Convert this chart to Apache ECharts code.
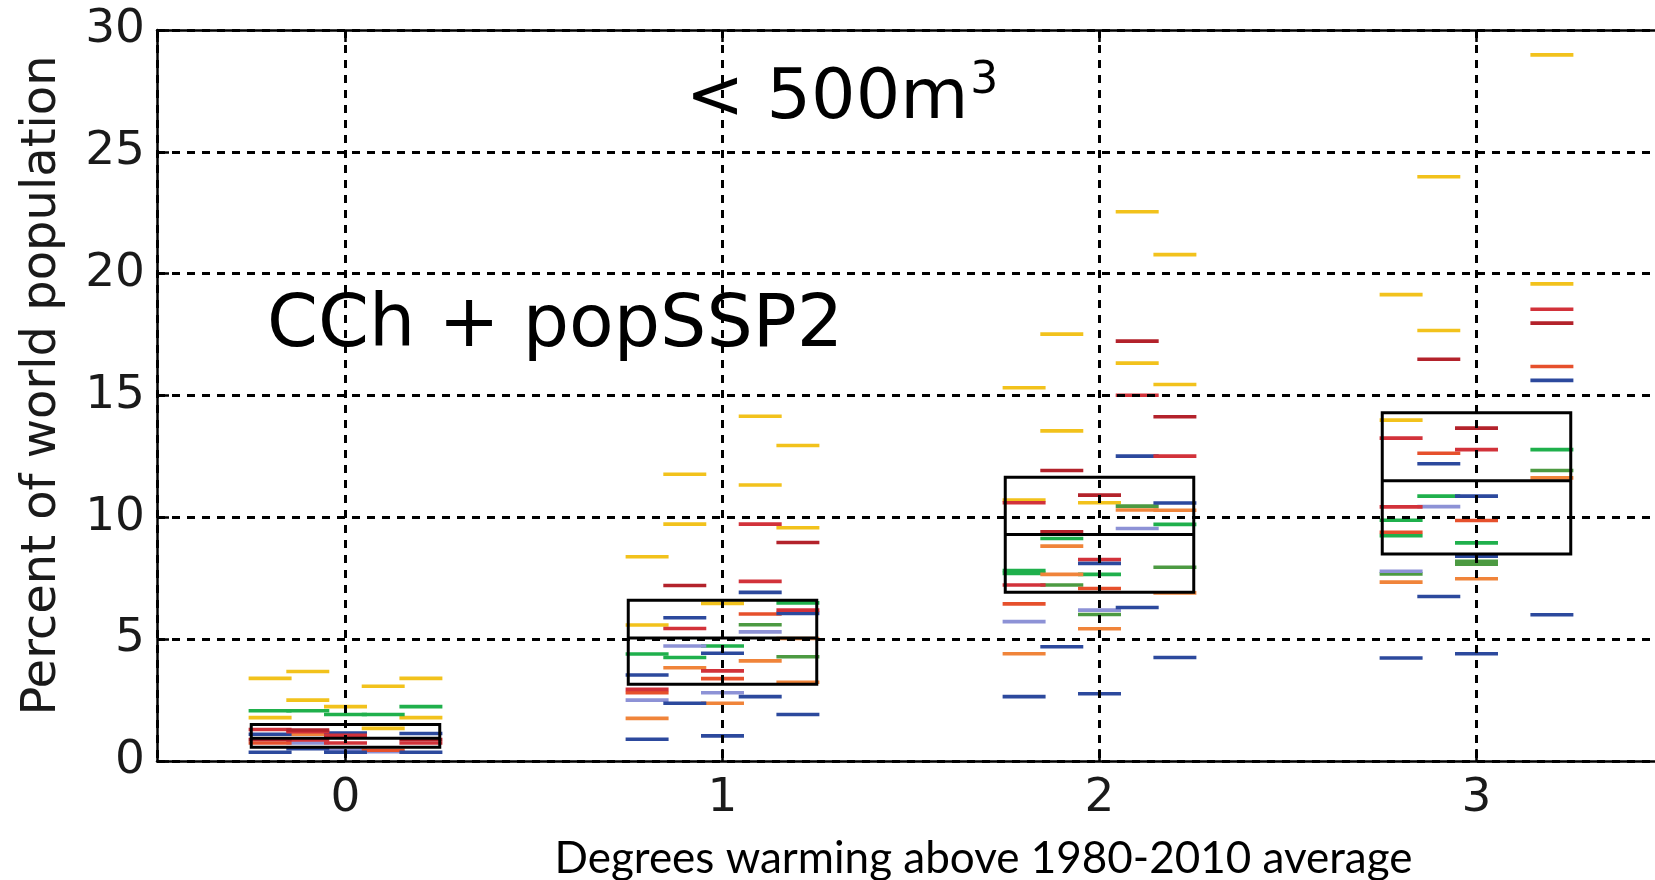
<!DOCTYPE html>
<html><head><meta charset="utf-8">
<script src="https://cdn.jsdelivr.net/npm/echarts@6/dist/echarts.min.js"></script>
<style>html,body{margin:0;padding:0;background:#fff}#c{width:1655px;height:880px}</style>
</head><body><div id="c"></div><script>
// warming levels (category centres on the x axis) and tick labels
const warming = [0, 1, 2, 3];
const yTicks = [0, 5, 10, 15, 20, 25, 30];

// box summaries per warming level
const boxLow    = [0.56, 3.15, 6.93, 8.50];
const boxMedian = [0.93, 5.05, 9.30, 11.50];
const boxHigh   = [1.50, 6.60, 11.64, 14.29];

// individual model results: [warming level, model column (-2..2), percent]
const yellow = [[0,-2,3.39],[0,-2,1.78],[0,-1,3.67],[0,-1,2.50],[0,0,2.23],[0,1,3.07],[0,1,1.34],[0,2,3.39],[0,2,1.78],
  [1,-2,8.38],[1,-2,5.58],[1,-1,11.77],[1,-1,9.72],[1,0,6.47],[1,1,14.15],[1,1,11.33],[1,2,12.95],[1,2,9.57],
  [2,-2,15.32],[2,-2,10.71],[2,-1,17.52],[2,-1,13.55],[2,0,10.6],[2,1,22.54],[2,1,16.33],[2,2,20.78],[2,2,15.45],
  [3,-2,19.14],[3,-2,13.99],[3,-1,23.98],[3,-1,17.67],[3,2,28.98],[3,2,19.58]];
const green = [[0,-2,2.06],[0,-1,2.06],[0,0,1.91],[0,1,1.91],[0,2,2.23],
  [1,-2,4.39],[1,-1,4.25],[1,0,4.72],[1,2,6.49],
  [2,-2,7.82],[2,-2,7.70],[2,-1,9.13],[2,0,7.66],[2,2,9.71],
  [3,-2,9.88],[3,-2,9.25],[3,-1,10.87],[3,0,8.95],[3,2,12.78]];
const darkGreen = [[1,1,5.59],[1,2,4.28],
  [2,-1,7.22],[2,0,6.01],[2,1,10.46],[2,2,7.95],
  [3,-2,7.68],[3,0,8.20],[3,0,8.08],[3,2,11.92]];
const red = [[0,-2,1.29],[0,-1,1.20],[0,-1,0.86],[0,0,1.05],[0,0,0.74],[0,2,0.74],
  [1,-2,2.94],[1,-1,5.44],[1,0,3.70],[1,1,9.72],[1,1,7.37],[1,2,6.19],
  [2,-2,10.6],[2,-2,7.22],[2,0,8.27],[2,1,15.01],[2,2,12.51],
  [3,-2,13.25],[3,-2,10.43],[3,0,12.78],[3,2,18.54]];
const darkRed = [[0,-2,0.88],[0,-1,1.27],[0,2,0.88],
  [1,-1,7.20],[1,2,8.97],
  [2,-1,11.92],[2,-1,9.41],[2,0,10.91],[2,1,17.23],[2,2,14.13],
  [3,-1,16.49],[3,0,13.66],[3,2,17.97]];
const redOrange = [[0,-2,0.74],[0,1,0.44],
  [1,-2,2.80],[1,0,3.38],[1,1,6.03],
  [2,-2,6.45],[2,0,7.08],
  [3,-2,9.39],[3,-1,12.63],[3,0,9.87],[3,2,16.19]];
const orange = [[0,-1,1.10],
  [1,-2,1.75],[1,-1,3.83],[1,0,2.37],[1,1,4.11],[1,2,5.03],[1,2,3.23],
  [2,-2,4.40],[2,-1,8.82],[2,-1,7.66],[2,0,5.43],[2,1,10.30],[2,2,10.29],[2,2,6.90],
  [3,-2,7.34],[3,0,7.48],[3,2,11.62]];
const blue = [[0,-2,1.10],[0,-2,0.36],[0,-1,0.50],[0,0,1.15],[0,0,0.36],[0,2,1.13],[0,2,0.36],
  [1,-2,3.53],[1,-2,0.89],[1,-1,5.88],[1,-1,2.37],[1,0,4.42],[1,0,1.03],[1,1,6.92],[1,1,2.64],[1,2,6.06],[1,2,1.91],
  [2,-2,2.64],[2,-1,4.69],[2,0,8.11],[2,0,2.76],[2,1,12.51],[2,1,6.30],[2,2,10.59],[2,2,4.25],
  [3,-2,4.23],[3,-1,12.20],[3,-1,6.75],[3,0,10.87],[3,0,8.41],[3,0,4.40],[3,2,15.62],[3,2,6.00]];
const lavender = [[0,-1,0.74],[0,0,0.45],[0,1,0.38],
  [1,-2,2.50],[1,-1,4.72],[1,0,2.80],[1,1,5.30],
  [2,-2,5.72],[2,0,6.19],[2,1,9.54],
  [3,-2,7.79],[3,-1,10.44]];

const COL_STEP = 0.1, HALF = 0.057, BOX_HALF = 0.25;

const groups = [
  ['yellow', '#f2c21c', yellow], ['green', '#1fb04c', green], ['darkGreen', '#4c9a42', darkGreen],
  ['lavender', '#8d92d6', lavender], ['orange', '#f0843a', orange], ['redOrange', '#e6502c', redOrange],
  ['blue', '#2c499d', blue], ['red', '#d2323a', red], ['darkRed', '#b3222b', darkRed]
];

const dashSeries = groups.map(([name, color, arr]) => ({
  type: 'custom', name, z: 2, clip: true,
  data: arr.map(d => [d[0] + d[1] * COL_STEP, d[2]]),
  renderItem(params, api) {
    const x = api.value(0), y = api.value(1);
    const a = api.coord([x - HALF, y]), b = api.coord([x + HALF, y]);
    return { type: 'line', shape: { x1: a[0], y1: a[1], x2: b[0], y2: b[1] },
      style: { stroke: color, lineWidth: 3.6 } };
  }
}));

const boxSeries = {
  type: 'custom', name: 'box', z: 5, clip: true,
  data: warming.map((w, i) => [w, boxLow[i], boxMedian[i], boxHigh[i]]),
  renderItem(params, api) {
    const w = api.value(0);
    const lo = api.coord([w - BOX_HALF, api.value(1)]);
    const hi = api.coord([w + BOX_HALF, api.value(3)]);
    const m1 = api.coord([w - BOX_HALF, api.value(2)]);
    const m2 = api.coord([w + BOX_HALF, api.value(2)]);
    return { type: 'group', children: [
      { type: 'rect', shape: { x: lo[0], y: hi[1], width: hi[0] - lo[0], height: lo[1] - hi[1] },
        style: { fill: 'none', stroke: '#000', lineWidth: 3 } },
      { type: 'line', shape: { x1: m1[0], y1: m1[1], x2: m2[0], y2: m2[1] },
        style: { stroke: '#000', lineWidth: 3 } }
    ]};
  }
};

const axisLine = { show: true, onZero: false, lineStyle: { color: '#000', width: 2.5 } };
const tick = { show: true, inside: true, length: 12, lineStyle: { color: '#000', width: 2.5 } };
const grid = { show: true, lineStyle: { color: '#000', width: 3, type: [8, 7] } };
const labelFont = { fontFamily: 'DejaVu Sans', fontSize: 47, color: '#1a1a1a' };

const chart = echarts.init(document.getElementById('c'), null, { renderer: 'canvas' });
chart.setOption({
  backgroundColor: '#fff',
  animation: false,
  grid: { left: 157, top: 30, width: 1508, height: 731, outerBoundsMode: 'none', containLabel: false },
  xAxis: [{
    type: 'value', min: -0.5, max: 3.5, splitNumber: 4, z: 10,
    axisLine, axisTick: tick, splitLine: grid,
    axisLabel: Object.assign({ margin: 14, showMinLabel: false, showMaxLabel: false,
      formatter: v => (warming.includes(v) ? String(v) : '') }, labelFont),
    name: 'Degrees warming above 1980-2010 average', nameLocation: 'middle', nameGap: 76,
    nameMoveOverlap: false,
    nameTextStyle: { fontFamily: "Lato, 'DejaVu Sans Condensed', sans-serif",
      fontSize: 44, color: '#000', padding: [0, 0, 0, 145] }
  }, {
    type: 'value', position: 'top', min: -0.5, max: 3.5, splitNumber: 4, z: 10,
    axisLine, axisTick: tick, splitLine: { show: false }, axisLabel: { show: false }
  }],
  yAxis: {
    type: 'value', min: yTicks[0], max: yTicks[yTicks.length - 1], interval: 5, z: 10,
    axisLine, axisTick: tick, splitLine: grid,
    axisLabel: Object.assign({ margin: 12 }, labelFont),
    name: 'Percent of world population', nameLocation: 'middle', nameGap: 90,
    nameMoveOverlap: false,
    nameTextStyle: { fontFamily: 'DejaVu Sans', fontSize: 48, color: '#1a1a1a', padding: [0, 0, 0, 20] }
  },
  graphic: [
    { type: 'text', x: 842, y: 100, z: 20,
      style: { text: '< 500m{s|3}', fontFamily: 'DejaVu Sans', fontSize: 70, fill: '#000',
        align: 'center', verticalAlign: 'middle',
        rich: { s: { fontFamily: 'DejaVu Sans', fontSize: 44, fill: '#000', padding: [0, 0, 36, 2] } } } },
    { type: 'text', x: 267, y: 327, z: 20,
      style: { text: 'CCh + popSSP2', fontFamily: 'DejaVu Sans', fontSize: 73, fill: '#000',
        align: 'left', verticalAlign: 'middle' } }
  ],
  series: dashSeries.concat([boxSeries])
});
</script></body></html>
